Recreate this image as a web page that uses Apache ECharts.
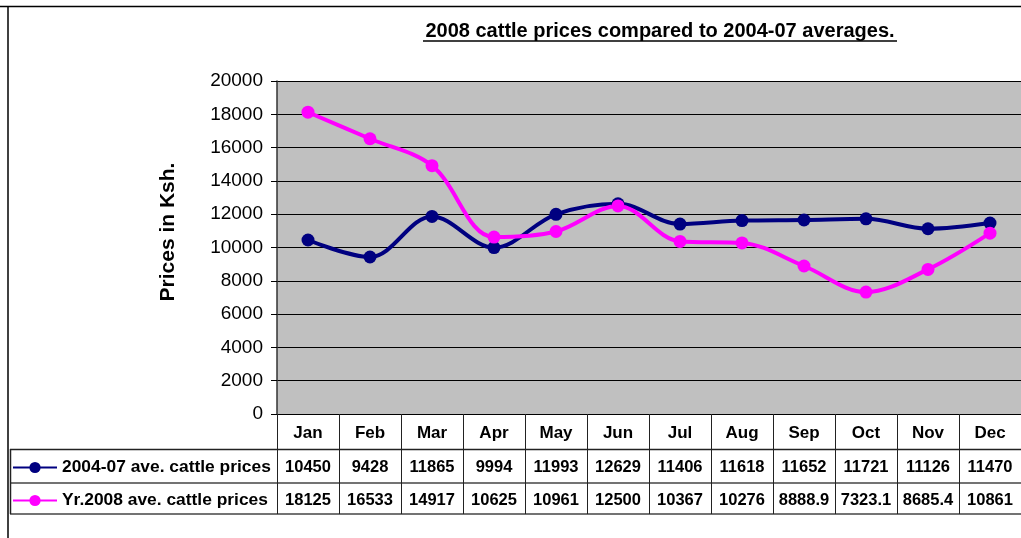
<!DOCTYPE html>
<html>
<head>
<meta charset="utf-8">
<script src="https://cdn.jsdelivr.net/npm/echarts@6/dist/echarts.min.js"></script>
<style>
html,body{margin:0;padding:0;background:#fff;}
#chart{width:1021px;height:538px;}
</style>
</head>
<body>
<div id="chart"></div>
<script>
var months = ['Jan','Feb','Mar','Apr','May','Jun','Jul','Aug','Sep','Oct','Nov','Dec'];
var avg0407 = [10450, 9428, 11865, 9994, 11993, 12629, 11406, 11618, 11652, 11721, 11126, 11470];
var yr2008 = [18125, 16533, 14917, 10625, 10961, 12500, 10367, 10276, 8888.9, 7323.1, 8685.4, 10861];
var seriesNames = ['2004-07 ave. cattle prices', 'Yr.2008 ave. cattle prices'];
var titleText = '2008 cattle prices compared to 2004-07 averages.';
var yTitle = 'Prices in Ksh.';
var yMin = 0, yMax = 20000, yStep = 2000;

var FONT = '"Liberation Sans", Arial, sans-serif';
var chart = echarts.init(document.getElementById('chart'), null, {renderer: 'canvas'});

function valueAxis(data, offset) {
  return {
    type: 'category', gridIndex: 0, position: 'bottom', offset: offset,
    data: data.map(function (v) { return String(v); }),
    boundaryGap: true,
    axisLine: {show: false}, axisTick: {show: false}, splitLine: {show: false},
    axisLabel: {interval: 0, margin: 11, color: '#000', fontSize: 16.5, fontWeight: 'bold', fontFamily: FONT}
  };
}

var option = {
  animation: false,
  backgroundColor: '#fff',
  grid: {left: 277, right: -6, top: 81, bottom: 124, show: true, backgroundColor: '#C0C0C0', borderWidth: 0},
  legend: {
    orient: 'vertical', left: 7, top: 454, itemGap: 16, itemWidth: 44, itemHeight: 14,
    selectedMode: false,
    textStyle: {color: '#000', fontSize: 17.4, fontWeight: 'bold', fontFamily: FONT},
    data: seriesNames
  },
  xAxis: [
    {
      type: 'category', gridIndex: 0, position: 'bottom', data: months, boundaryGap: true,
      axisLine: {show: true, lineStyle: {color: '#000', width: 1}},
      axisTick: {show: true, interval: 0, length: 100, lineStyle: {color: '#222', width: 1}},
      axisLabel: {interval: 0, margin: 11, color: '#000', fontSize: 17, fontWeight: 'bold', fontFamily: FONT},
      splitLine: {show: false}
    },
    valueAxis(avg0407, 34),
    valueAxis(yr2008, 67)
  ],
  yAxis: {
    type: 'value', min: yMin, max: yMax, interval: yStep,
    axisLine: {show: true, lineStyle: {color: '#333', width: 1.5}},
    axisTick: {show: true, length: 6, lineStyle: {color: '#000'}},
    axisLabel: {margin: 14, color: '#000', fontSize: 19, fontFamily: FONT, formatter: function (v) { return String(v); }},
    splitLine: {show: true, lineStyle: {color: '#000', width: 1}}
  },
  series: [
    {
      name: seriesNames[0], type: 'line', xAxisIndex: 0, data: avg0407, smooth: 0.35,
      symbol: 'circle', symbolSize: 13,
      lineStyle: {color: '#000080', width: 4}, itemStyle: {color: '#000080'}
    },
    {
      name: seriesNames[1], type: 'line', xAxisIndex: 0, data: yr2008, smooth: 0.35,
      symbol: 'circle', symbolSize: 13,
      lineStyle: {color: '#FF00FF', width: 4}, itemStyle: {color: '#FF00FF'}
    }
  ],
  graphic: [
    {type: 'line', shape: {x1: 0, y1: 6.5, x2: 1021, y2: 6.5}, style: {stroke: '#000', lineWidth: 1.5}},
    {type: 'line', shape: {x1: 8, y1: 6, x2: 8, y2: 538}, style: {stroke: '#000', lineWidth: 1.5}},
    {type: 'text', x: 660, y: 31, style: {text: titleText, align: 'center', verticalAlign: 'middle', font: 'bold 20px ' + FONT, fill: '#000'}},
    {type: 'line', shape: {x1: 423, y1: 41, x2: 897, y2: 41}, style: {stroke: '#000', lineWidth: 1.5}},
    {type: 'text', x: 168, y: 232, rotation: Math.PI / 2, style: {text: yTitle, align: 'center', verticalAlign: 'middle', font: 'bold 21px ' + FONT, fill: '#000'}},
    {type: 'line', shape: {x1: 10, y1: 449.5, x2: 1021, y2: 449.5}, style: {stroke: '#222', lineWidth: 1.5}},
    {type: 'line', shape: {x1: 10, y1: 483, x2: 1021, y2: 483}, style: {stroke: '#444', lineWidth: 1.5}},
    {type: 'line', shape: {x1: 10, y1: 514, x2: 1021, y2: 514}, style: {stroke: '#444', lineWidth: 1.5}},
    {type: 'line', shape: {x1: 10.5, y1: 449, x2: 10.5, y2: 514}, style: {stroke: '#222', lineWidth: 1.5}}
  ]
};
chart.setOption(option);
</script>
</body>
</html>
